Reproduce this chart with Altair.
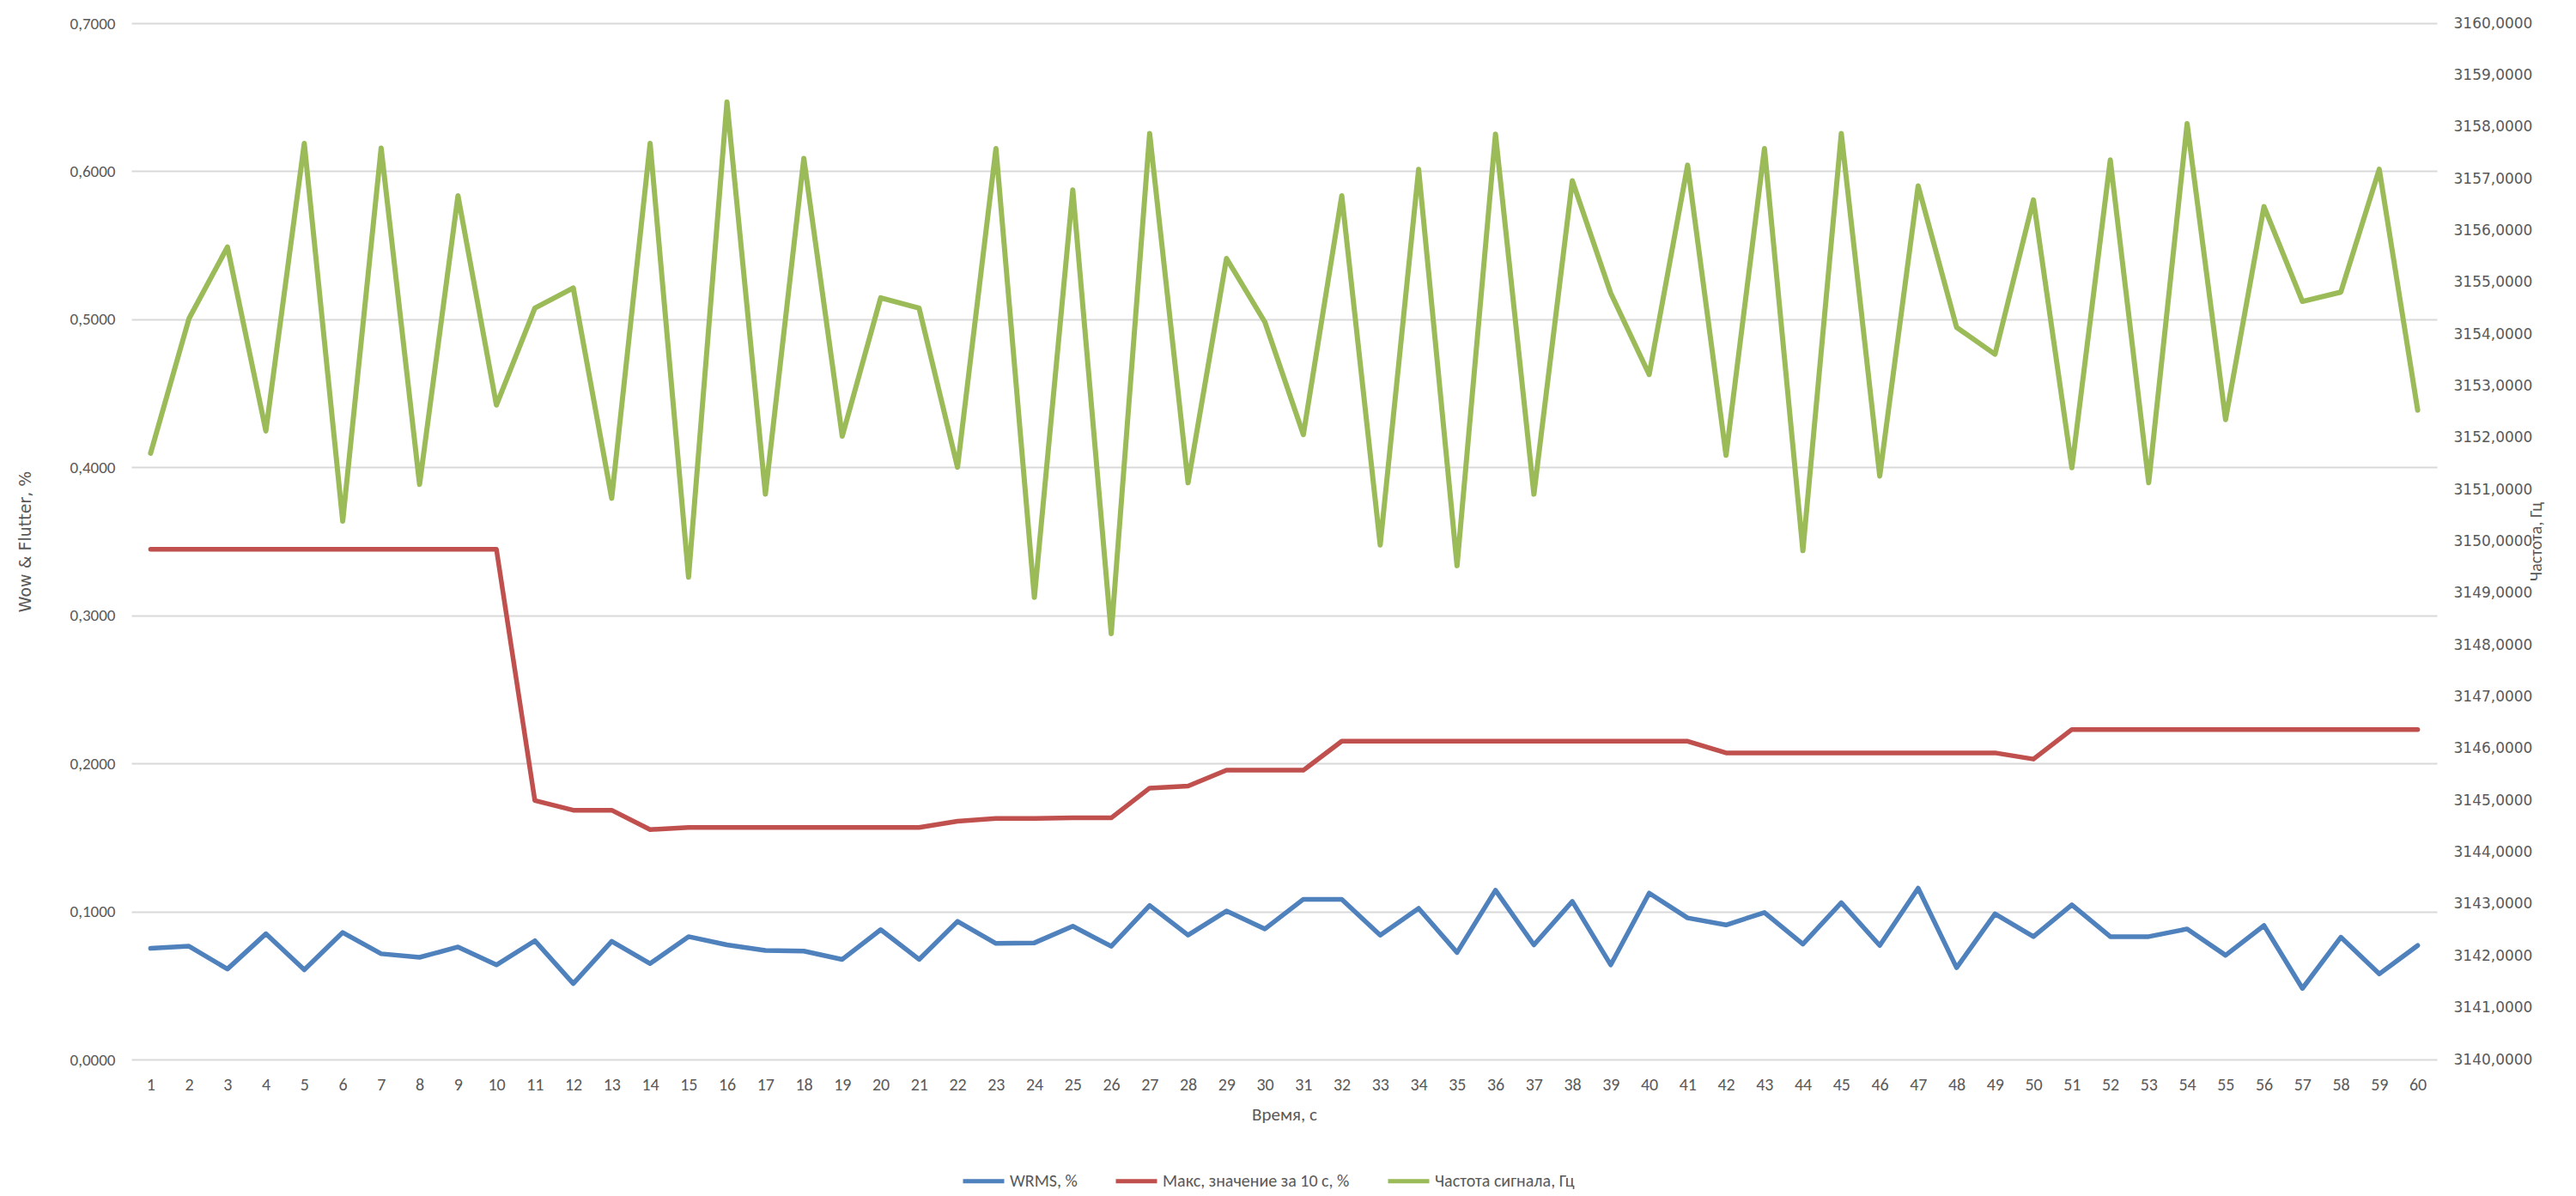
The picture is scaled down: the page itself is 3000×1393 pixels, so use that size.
import altair as alt
import pandas as pd

# ---- data ----
seconds = [1, 2, 3, 4, 5, 6, 7, 8, 9, 10, 11, 12, 13, 14, 15, 16, 17, 18, 19, 20,
           21, 22, 23, 24, 25, 26, 27, 28, 29, 30, 31, 32, 33, 34, 35, 36, 37, 38, 39, 40,
           41, 42, 43, 44, 45, 46, 47, 48, 49, 50, 51, 52, 53, 54, 55, 56, 57, 58, 59, 60]

wrms = [0.0751, 0.0765, 0.0611, 0.0849, 0.0606, 0.0858, 0.0714, 0.0690, 0.0760, 0.0639,
        0.0802, 0.0513, 0.0798, 0.0648, 0.0830, 0.0774, 0.0737, 0.0732, 0.0676, 0.0877,
        0.0676, 0.0933, 0.0784, 0.0788, 0.0900, 0.0765, 0.1040, 0.0840, 0.1003, 0.0882,
        0.1082, 0.1082, 0.0840, 0.1021, 0.0723, 0.1143, 0.0774, 0.1068, 0.0639, 0.1124,
        0.0956, 0.0909, 0.0993, 0.0779, 0.1059, 0.0770, 0.1157, 0.0620, 0.0984, 0.0830,
        0.1045, 0.0830, 0.0830, 0.0882, 0.0704, 0.0905, 0.0480, 0.0826, 0.0578, 0.0770]

max10 = [0.3447, 0.3447, 0.3447, 0.3447, 0.3447, 0.3447, 0.3447, 0.3447, 0.3447, 0.3447,
         0.1749, 0.1684, 0.1684, 0.1553, 0.1567, 0.1567, 0.1567, 0.1567, 0.1567, 0.1567,
         0.1567, 0.1609, 0.1628, 0.1628, 0.1632, 0.1632, 0.1833, 0.1847, 0.1954, 0.1954,
         0.1954, 0.2150, 0.2150, 0.2150, 0.2150, 0.2150, 0.2150, 0.2150, 0.2150, 0.2150,
         0.2150, 0.2071, 0.2071, 0.2071, 0.2071, 0.2071, 0.2071, 0.2071, 0.2071, 0.2029,
         0.2229, 0.2229, 0.2229, 0.2229, 0.2229, 0.2229, 0.2229, 0.2229, 0.2229, 0.2229]

freq = [3151.70, 3154.30, 3155.68, 3152.13, 3157.68, 3150.39, 3157.59, 3151.10, 3156.67, 3152.63,
        3154.50, 3154.89, 3150.83, 3157.68, 3149.31, 3158.48, 3150.91, 3157.39, 3152.03, 3154.70,
        3154.50, 3151.43, 3157.58, 3148.92, 3156.78, 3148.22, 3157.87, 3151.13, 3155.46, 3154.23,
        3152.06, 3156.67, 3149.93, 3157.18, 3149.53, 3157.86, 3150.91, 3156.96, 3154.79, 3153.22,
        3157.26, 3151.66, 3157.58, 3149.82, 3157.87, 3151.26, 3156.86, 3154.13, 3153.61, 3156.59,
        3151.42, 3157.36, 3151.13, 3158.06, 3152.35, 3156.46, 3154.63, 3154.81, 3157.18, 3152.53]

series_names = ["WRMS, %", "Макс, значение за 10 с, %", "Частота сигнала, Гц"]
colors = ["#4F81BD", "#C0504D", "#9BBB59"]

left_ticks = [0.0, 0.1, 0.2, 0.3, 0.4, 0.5, 0.6, 0.7]
right_ticks = [3140, 3141, 3142, 3143, 3144, 3145, 3146, 3147, 3148, 3149, 3150,
               3151, 3152, 3153, 3154, 3155, 3156, 3157, 3158, 3159, 3160]

left_df = pd.DataFrame({
    "t": seconds + seconds,
    "v": wrms + max10,
    "s": [series_names[0]] * len(seconds) + [series_names[1]] * len(seconds),
})
right_df = pd.DataFrame({"t": seconds, "v": freq, "s": [series_names[2]] * len(seconds)})

TXT = "#595959"
NARROW = "Carlito, Lato, Roboto, sans-serif"
WIDE = "DejaVu Sans, Verdana, sans-serif"

color = alt.Color(
    "s:N",
    scale=alt.Scale(domain=series_names, range=colors),
    legend=alt.Legend(
        orient="none", legendX=966, legendY=1322, direction="horizontal", title=None,
        symbolType="stroke", symbolSize=2304, symbolStrokeWidth=5,
        labelFont=NARROW, labelFontSize=20, labelColor=TXT, labelLimit=600,
        columnPadding=34, labelOffset=4, padding=0,
    ),
)

x = alt.X(
    "t:O",
    axis=alt.Axis(
        title="Время, с", labelAngle=0, domain=False, ticks=False, grid=False,
        labelPadding=19, titlePadding=14,
        labelFont=NARROW, labelFontSize=20, labelColor=TXT,
        titleFont=NARROW, titleFontSize=21, titleColor=TXT, titleFontWeight="normal",
    ),
)

left = alt.Chart(left_df).mark_line(strokeWidth=5.5, strokeJoin="round", strokeCap="round").encode(
    x=x,
    y=alt.Y(
        "v:Q",
        scale=alt.Scale(domain=[0, 0.7], nice=False, zero=True),
        axis=alt.Axis(
            orient="left", values=left_ticks,
            labelExpr="replace(format(datum.value, '.4f'), '.', ',')",
            title="Wow & Flutter, %", grid=True, gridColor="#D9D9D9", gridWidth=2,
            domain=False, ticks=False, labelPadding=19, titlePadding=42,
            labelFont=NARROW, labelFontSize=19, labelColor=TXT,
            titleFont=WIDE, titleFontSize=19, titleColor=TXT, titleFontWeight="normal",
        ),
    ),
    color=color,
    detail="s:N",
)

right = alt.Chart(right_df).mark_line(strokeWidth=6, strokeJoin="round", strokeCap="round").encode(
    x=x,
    y=alt.Y(
        "v:Q",
        scale=alt.Scale(domain=[3140, 3160], nice=False, zero=False),
        axis=alt.Axis(
            orient="right", values=right_ticks,
            labelExpr="replace(format(datum.value, '.4f'), '.', ',')",
            title="Частота, Гц", titleAngle=270, grid=False,
            domain=False, ticks=False, labelPadding=19, titlePadding=15,
            labelFont=WIDE, labelFontSize=17, labelColor=TXT,
            titleFont=NARROW, titleFontSize=20, titleColor=TXT, titleFontWeight="normal",
        ),
    ),
    color=color,
)

chart = (
    alt.layer(left, right)
    .resolve_scale(y="independent")
    .properties(
        width=2685, height=1207,
        padding={"left": 145, "top": 19, "right": 150, "bottom": 158},
        autosize=alt.AutoSizeParams(type="none"),
        background="white",
    )
    .configure_view(stroke=None)
)

chart.save("out.html", embed_options={"renderer": "svg", "actions": False})
